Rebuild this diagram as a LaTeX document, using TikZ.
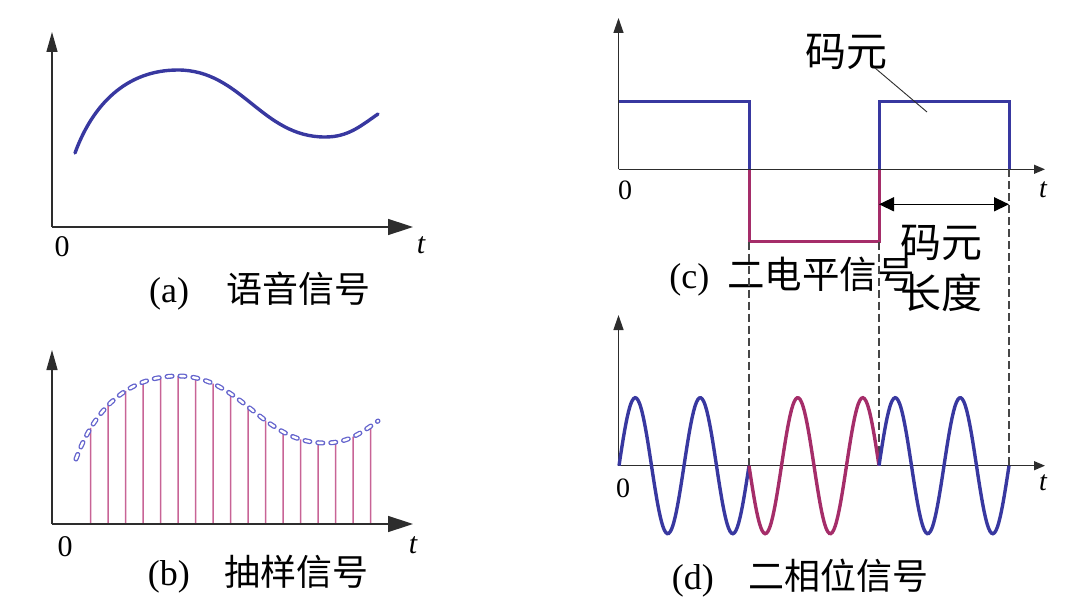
\documentclass[tikz,border=0pt]{standalone}
\usepackage{fontspec}
\setmainfont{Liberation Serif}
\newfontfamily\cjk{Noto Sans CJK SC}
\usetikzlibrary{arrows.meta,intersections}
\definecolor{wblue}{RGB}{56,56,160}
\definecolor{wmag}{RGB}{165,45,105}
\definecolor{stemc}{RGB}{200,100,150}
\definecolor{dashc}{RGB}{100,100,205}
\definecolor{axisc}{RGB}{45,45,45}
\definecolor{guidec}{RGB}{70,70,70}
\begin{document}
\begin{tikzpicture}[x=1pt,y=-1pt,
  axisL/.style={line width=1.5pt, draw=axisc},
  axisS/.style={line width=1.3pt, draw=axisc},
  bigx/.style={-{Triangle[length=25pt,width=16pt]}},
  bigy/.style={-{Triangle[length=20pt,width=11pt]}},
  smallx/.style={-{Triangle[length=11pt,width=9pt]}},
  smally/.style={-{Triangle[length=15pt,width=10pt]}},
  bluewave/.style={draw=wblue, line width=3.4pt},
  magwave/.style={draw=wmag, line width=3.4pt},
  sqblue/.style={draw=wblue, line width=3pt},
  sqmag/.style={draw=wmag, line width=3pt},
  stemline/.style={draw=stemc, line width=1.5pt},
  sampled/.style={draw=dashc, line width=1.3pt, double=white, double distance=2.4pt, line cap=round, dash pattern=on 5pt off 8pt},
  guide/.style={draw=guidec, line width=1.1pt, dash pattern=on 8pt off 4pt},
  numlbl/.style={font=\fontsize{30}{32}\selectfont, inner sep=0pt},
  numlblS/.style={font=\fontsize{28}{30}\selectfont, inner sep=0pt},
  caption/.style={font=\fontsize{36}{40}\selectfont, inner sep=0pt},
  cnote/.style={font=\fontsize{41}{44}\selectfont\cjk, inner sep=0pt}
]
\useasboundingbox (0,0) rectangle (1088,610);

% ---------- (a) speech signal ----------
\coordinate (aO) at (52,227);
\coordinate (aY) at (52,32);
\coordinate (aX) at (413,227);
\draw[axisL,bigy] (aO) -- (aY);
\draw[axisL,bigx] (aO) -- (aX);
\node[numlbl] (a0) at (62,247) {0};
\node[numlbl] (at) at (421,245) {\itshape t};
\coordinate (as) at (75,153);
\coordinate (amax) at (178,70);
\coordinate (amin) at (325,137);
\coordinate (ae) at (378,114);
\draw[bluewave, line cap=round] (as) to[out=70,in=180] (amax) to[out=0,in=180] (amin) to[out=0,in=215] (ae);
\node[caption] (acap) at (260,291) {(a)\hspace{1.05em}{\cjk 语音信号}};

% ---------- (b) sampled signal ----------
\coordinate (bO) at (52,524);
\coordinate (bY) at (52,350);
\coordinate (bX) at (413,524);
\coordinate (bs) at (76,459);
\coordinate (bmax) at (178,376);
\coordinate (bmin) at (325,443);
\coordinate (be) at (378,421);
\path[name path=bcurve] (bs) to[out=70,in=180] (bmax) to[out=0,in=180] (bmin) to[out=0,in=215] (be);
\foreach \k in {0,...,16} {
  \pgfmathsetmacro{\sx}{90.7+17.5*\k}
  \path[name path=vline] (\sx,340) -- (\sx,530);
  \path[name intersections={of=bcurve and vline, by=top}];
  \coordinate (bot) at (\sx,524);
  \draw[stemline] (bot) -- (top);
}
\draw[sampled] (bs) to[out=70,in=180] (bmax) to[out=0,in=180] (bmin) to[out=0,in=215] (be);
\draw[axisL,bigy] (bO) -- (bY);
\draw[axisL,bigx] (bO) -- (bX);
\node[numlbl] (b0) at (65,547) {0};
\node[numlbl] (bt) at (413,545) {\itshape t};
\node[caption] (bcap) at (258,574) {(b)\hspace{0.95em}{\cjk 抽样信号}};

% ---------- (c) two-level signal ----------
\coordinate (cO) at (618.5,169.3);
\coordinate (cY) at (618.5,18);
\coordinate (cX) at (1045,169.3);
\coordinate (c0h) at (619,101.7);
\coordinate (c1h) at (749,101.7);
\coordinate (c1m) at (749,169.3);
\coordinate (c1l) at (749,241.7);
\coordinate (c2l) at (879,241.7);
\coordinate (c2m) at (879,169.3);
\coordinate (c2h) at (879,101.7);
\coordinate (c3h) at (1009,101.7);
\coordinate (c3m) at (1009,169.3);
\draw[axisS,smally] (cO) -- (cY);
\draw[sqblue] (c0h) -- (c1h) -- (c1m);
\draw[sqmag] (c1m) -- (c1l) -- (c2l) -- (c2m);
\draw[sqblue] (c2m) -- (c2h) -- (c3h) -- (c3m);
\draw[axisS,smallx] (cO) -- (cX);
\node[numlblS] (c0) at (625,190) {0};
\node[numlblS] (ct) at (1043,190) {\itshape t};
\node[cnote] (sym) at (846.7,52) {码元};
\coordinate (lead1) at (875,68);
\coordinate (lead2) at (927,112);
\draw[line width=0.9pt, draw=axisc] (lead1) -- (lead2);
\coordinate (arrL) at (879,204.3);
\coordinate (arrR) at (1009,204.3);
\draw[line width=1.4pt, {Triangle[length=15pt,width=14pt]}-{Triangle[length=15pt,width=14pt]}] (arrL) -- (arrR);
\node[caption] (ccap) at (792,277) {(c)\hspace{0.5em}{\fontsize{37.5}{40}\selectfont\cjk 二电平信号}};
\node[cnote] (symlen1) at (941.7,243.3) {码元};
\node[cnote] (symlen2) at (941.7,293.3) {长度};

% ---------- guides ----------
\coordinate (g1) at (749,465.7);
\coordinate (g2) at (879,465.7);
\coordinate (g3) at (1009,465.7);
\draw[guide] (c1l) -- (g1);
\draw[guide] (c2l) -- (g2);
\draw[guide] (c3m) -- (g3);

% ---------- (d) two-phase signal ----------
\coordinate (dO) at (618.5,465.7);
\coordinate (dY) at (618.5,315);
\coordinate (dX) at (1045,465.7);
\draw[axisS,smally] (dO) -- (dY);
\draw[axisS,smallx] (dO) -- (dX);
\draw[bluewave] plot[domain=0:130, samples=90, smooth] ({619+\x},{465.7-68*sin(5.538462*\x)});
\draw[magwave] plot[domain=0:130, samples=90, smooth] ({749+\x},{465.7+68*sin(5.538462*\x)});
\draw[bluewave] plot[domain=0:130, samples=90, smooth] ({879+\x},{465.7-68*sin(5.538462*\x)});
\node[numlblS] (d0) at (623,488) {0};
\node[numlblS] (dt) at (1043,483) {\itshape t};
\node[caption] (dcap) at (800,578) {(d)\hspace{0.95em}{\cjk 二相位信号}};
\end{tikzpicture}
\end{document}
